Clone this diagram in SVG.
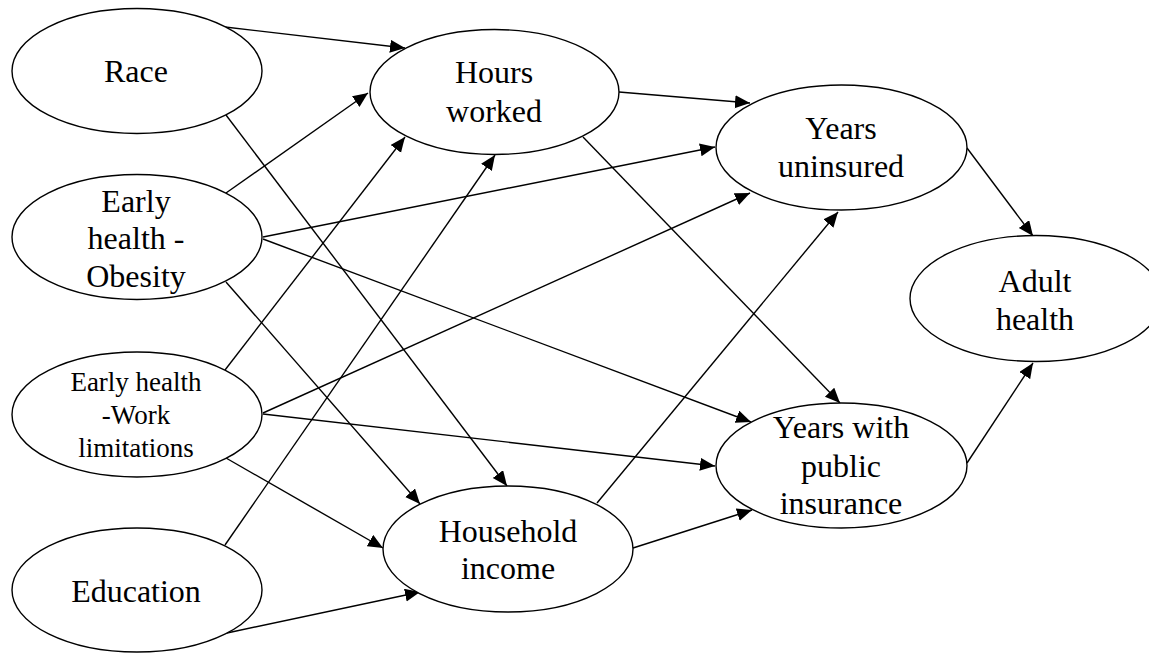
<svg xmlns="http://www.w3.org/2000/svg" width="1149" height="653" viewBox="0 0 1149 653">
<style>
.n ellipse{fill:#fff;stroke:#000;stroke-width:1.4}
.n text{font-family:'Liberation Serif','Times New Roman','DejaVu Serif',serif;font-size:32px;fill:#000;text-anchor:middle}
.n text.s{font-size:27px}
.e line{stroke:#000;stroke-width:1.4}
</style>
<defs>
<marker id="ah" markerUnits="userSpaceOnUse" markerWidth="16" markerHeight="14" refX="15" refY="6.5" orient="auto">
<path d="M0,0 L15,6.5 L0,13 Z" fill="#000"/>
</marker>
</defs>
<rect width="1149" height="653" fill="#fff"/>
<g id="connectors" class="e">
<line x1="225" y1="27" x2="405" y2="48" marker-end="url(#ah)"/>
<line x1="226" y1="193" x2="368" y2="93" marker-end="url(#ah)"/>
<line x1="225" y1="370" x2="405" y2="137" marker-end="url(#ah)"/>
<line x1="225" y1="545" x2="495" y2="155" marker-end="url(#ah)"/>
<line x1="619" y1="92" x2="750" y2="103" marker-end="url(#ah)"/>
<line x1="263" y1="237" x2="715" y2="147" marker-end="url(#ah)"/>
<line x1="263" y1="413" x2="750" y2="193" marker-end="url(#ah)"/>
<line x1="597" y1="503" x2="838" y2="212" marker-end="url(#ah)"/>
<line x1="967" y1="148" x2="1033" y2="236" marker-end="url(#ah)"/>
<line x1="226" y1="115" x2="507" y2="486" marker-end="url(#ah)"/>
<line x1="226" y1="282" x2="420" y2="504" marker-end="url(#ah)"/>
<line x1="226" y1="458" x2="383" y2="548" marker-end="url(#ah)"/>
<line x1="227" y1="633" x2="420" y2="592" marker-end="url(#ah)"/>
<line x1="583" y1="137" x2="840" y2="403" marker-end="url(#ah)"/>
<line x1="263" y1="239" x2="751" y2="422" marker-end="url(#ah)"/>
<line x1="263" y1="414" x2="715" y2="466" marker-end="url(#ah)"/>
<line x1="633" y1="548" x2="752" y2="510" marker-end="url(#ah)"/>
<line x1="967" y1="463" x2="1033" y2="363" marker-end="url(#ah)"/>
</g>
<g id="race" class="n">
<ellipse cx="137" cy="71" rx="125" ry="62.5"/>
<text x="136" y="82">Race</text>
</g>
<g id="obesity" class="n">
<ellipse cx="137" cy="237" rx="125" ry="62.5"/>
<text x="136" y="212">Early</text>
<text x="136" y="249">health -</text>
<text x="136" y="287">Obesity</text>
</g>
<g id="worklim" class="n">
<ellipse cx="137" cy="414.5" rx="125" ry="62.5"/>
<text class="s" x="136" y="391">Early health</text>
<text class="s" x="136" y="424">-Work</text>
<text class="s" x="136" y="457">limitations</text>
</g>
<g id="education" class="n">
<ellipse cx="137" cy="590" rx="125" ry="62"/>
<text x="136" y="602">Education</text>
</g>
<g id="hours" class="n">
<ellipse cx="494.5" cy="92" rx="124.5" ry="62.5"/>
<text x="494" y="83">Hours</text>
<text x="494" y="122">worked</text>
</g>
<g id="household" class="n">
<ellipse cx="508" cy="549" rx="125" ry="63"/>
<text x="508" y="542">Household</text>
<text x="508" y="579">income</text>
</g>
<g id="uninsured" class="n">
<ellipse cx="841.5" cy="147.5" rx="125.5" ry="62.5"/>
<text x="841" y="139">Years</text>
<text x="841" y="177">uninsured</text>
</g>
<g id="public" class="n">
<ellipse cx="841.5" cy="465.5" rx="125.5" ry="62.5"/>
<text x="841" y="438">Years with</text>
<text x="841" y="477">public</text>
<text x="841" y="514">insurance</text>
</g>
<g id="adult" class="n">
<ellipse cx="1036" cy="298.5" rx="126" ry="63"/>
<text x="1035" y="292">Adult</text>
<text x="1035" y="330">health</text>
</g>
</svg>
